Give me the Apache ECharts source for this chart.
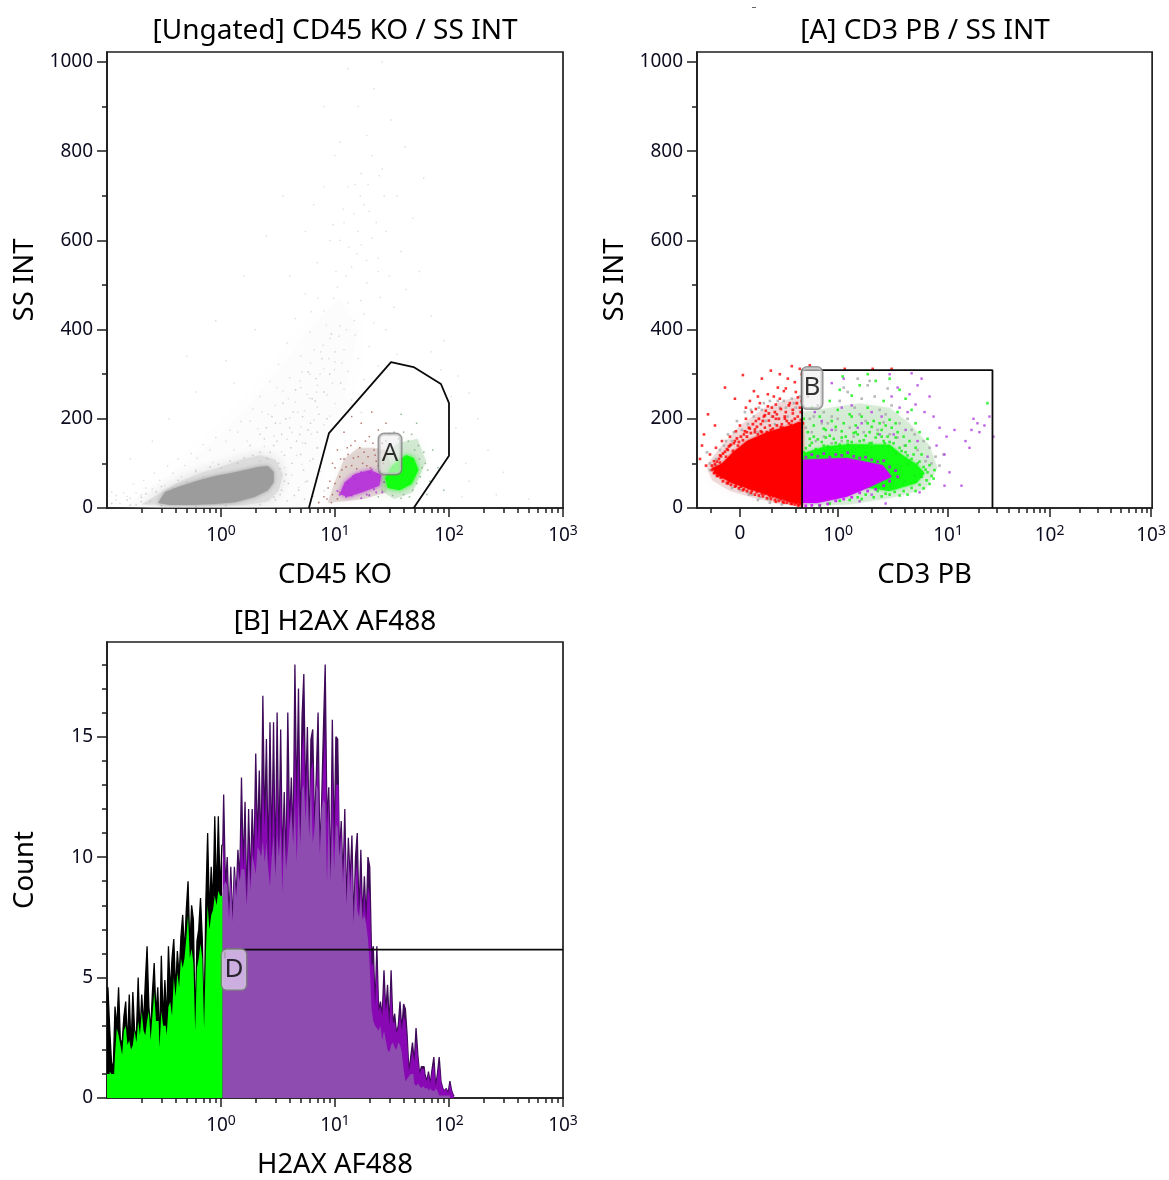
<!DOCTYPE html>
<html><head><meta charset="utf-8">
<style>html,body{margin:0;padding:0;background:#fff}#c{width:1169px;height:1180px}#c canvas{filter:blur(.4px)}</style>
<script src="https://cdn.jsdelivr.net/npm/echarts@6/dist/echarts.min.js"></script>
</head><body><div id="c"></div>
<script>
const FONT='"Noto Sans"';
// ---- tick labels ----
const ssMajor=[0,200,400,600,800,1000];
const ssMinor=[100,300,500,700,900];
const logMajor=[1,10,100,1000];
const logMinor=[0.2,0.3,0.4,0.5,0.6,0.7,0.8,0.9,2,3,4,5,6,7,8,9,20,30,40,50,60,70,80,90,200,300,400,500,600,700,800,900];
const cd3Major=[0,1,10,100,1000];
const cd3Minor=[-0.18,0.2,0.4,0.5,0.6,0.7,0.8,0.9,2,3,4,5,6,7,8,9,20,30,40,50,60,70,80,90,200,300,400,500,600,700,800,900];
const countMajor=[0,5,10,15];
const countMinor=[1,2,3,4,6,7,8,9,11,12,13,14,16,17,18];
// ---- gates ----
const gateA=[[5.9,0],[8.86,168],[31,327],[48.9,316],[85,278],[100,235],[100,117],[49,0]];
const gateBRange=[0.46,27.4], gateBTop=309;
const gateD=[[1.08,5.8],[1.08,6.16],[1000,6.16]];
// ---- panel 1: CD45 KO / SS INT ----
const cd45Core=[[.28,11],[.323,36],[.437,49],[.654,63],[.886,72],[1.2,78],[1.62,85],[2.11,92],[2.58,94],[2.9,81],[2.9,58],[2.58,40],[1.99,25],[1.33,13],[.886,9],[.535,7],[.357,7]];
const cd45Halo=[[.2,8],[.27,28],[.42,58],[.65,78],[1,92],[1.5,108],[2.2,118],[3,108],[3.5,75],[3.2,40],[2.6,15],[1.6,6],[.6,6]];
const cd45Wash=[[.14,4],[.3,60],[.7,130],[1.5,210],[3,300],[6,400],[11,470],[16,400],[12,240],[7,100],[6,5]];
const cd45Sparse=[[13,985],[22,940],[8,900],[31,870],[19,835],[41,810],[10,790],[26,760],[60,740],[15,725],[35,700],[6.5,680],[20,665],[48,650],[12,640],[28,620],[9,600],[17,590],[38,575],[24,560],[7,550],[14,540],[55,530],[30,520],[19,505],[10.5,495],[42,490],[5.5,480],[25,472],[13,460],[33,450],[8,442],[18,435],[70,430],[4.5,425],[22,415],[11,408],[28,400],[6,395],[15,388],[9,380],[90,375],[3.8,370],[20,362],[12,355],[7.5,350],[35,345],[5,340],[16,335],[10,328],[3.2,322],[24,318],[8,312],[13,306],[6,300],[120,296],[4,292],[18,288],[2.7,284],[9.5,280],[7,275],[5,270],[12,266],[3.5,262],[150,258],[8.5,254],[2.2,250],[6,246],[14,242],[4.5,238],[10,234],[3,230],[7,226],[1.9,222],[5.4,218],[17,214],[2.6,210],[9,206],[4,202],[6.5,198],[1.5,194],[3.3,190],[8,186],[5,182],[2.1,178],[1.2,174],[4.2,170],[6.2,166],[2.9,162],[.9,158],[3.8,154],[1.7,150],[5.2,146],[.7,142],[2.4,138],[7,134],[1.3,130],[3.4,126],[.55,122],[4.6,118],[2,114],[.42,110],[6,106],[.85,102],[5.1,98],[.34,94],[3.6,90],[.6,86],[7.5,82],[.26,78],[4.2,74],[.45,70],[6.8,66],[.21,62],[5.5,58],[.17,54],[.32,50],[4.8,46],[.25,42],[8,38],[.14,34],[.2,30],[6.5,26],[.16,22],[.12,18],[7.2,14],[.13,10],[180,200],[220,130],[300,80],[150,60],[260,30],[500,20],[130,25],[70,350],[85,310],[105,250],[115,180],[140,100],[1.1,330],[.6,260],[.35,200],[.25,150],[.16,110],[.9,420],[1.6,520],[2.5,610],[3.5,700],[.5,340],[2,400],[1.3,280],[4,520],[5.5,620],[8,720],[11,820],[16,900],[26,1000],[6.2,440],[9.7,470],[12.5,520],[15.5,570],[11,600],[18,680],[23,640],[17,750],[13,720],[21,790],[27,700],[7.4,300],[8.8,335],[6.1,325],[5.1,305],[9.9,310],[11.5,325],[7.9,365],[6.6,355],[10.8,385],[12.6,400],[8.4,410],[14.8,420],[16.8,465],[7.1,470],[10.2,530],[13.2,585],[15.9,620],[9.6,635],[18.9,555],[21,605],[24,530],[11.8,670],[14.6,660],[16.7,700],[19.5,725],[24.5,745],[4.7,215],[5.7,255],[6.9,260],[3.9,245],[4.9,285],[3.1,270],[2.3,215],[1.8,195],[1.4,170],[1.1,150],[.8,130],[.62,112],[.48,95],[.38,78],[.29,62],[.22,45],[.18,34],[.15,26],[.12,28],[.11,36]];
const cd45Near=[[1.8,140],[2.4,155],[2.9,140],[3.4,165],[4,180],[4.6,150],[5.2,205],[3,190],[4.3,215],[5.8,175],[6.3,245],[7.2,210],[8,260],[6.8,290],[9,300],[7.7,335],[10,350],[11.2,280],[9.3,390],[5,120],[4.2,100],[3.7,75],[3.9,55],[4.8,40],[5.3,85],[5.7,60],[2.6,110],[1.4,100],[1,90],[.7,70],[.5,58],[.38,44],[.27,36],[.2,24],[.15,18],[.11,10],[2.2,105],[3.2,100],[3.6,118],[2.7,125],[1.9,118],[1.2,105],[.8,92],[3.3,30],[2.9,24],[4.4,28],[5.4,20],[3.8,16],[2.2,8],[1.1,5],[.6,4],[.3,5],[.18,7],[.24,15],[.34,20],[7,170],[8.5,200],[7,135],[6.4,110],[3.5,235],[2.8,205],[4.5,265],[5.8,305],[6.7,240],[3.3,88],[3.6,60],[3.4,40],[3,18],[2.2,125],[2.5,112],[1.6,112],[.95,98],[.6,82],[.42,62],[.3,48],[.22,32],[.2,14],[.16,6],[4.1,135],[4.9,165],[3.1,150],[2.2,165],[5.5,145],[6.1,190],[3.7,200],[2.5,180]];
const gateBrown=[[10,55],[11.5,85],[13,120],[15,150],[12,170],[17,190],[20,160],[24,175],[18,125],[22,130],[26,145],[30,165],[14,95],[16,70],[19,95],[23,105],[27,110],[11,35],[13,40],[9.5,30],[8.5,20],[12,110],[10.5,130],[14,205],[21,215],[9.5,100],[28,190],[16,115],[20,80],[25,85],[11,70],[12.5,92],[13.8,140],[14.5,112],[15.5,88],[16.5,135],[17.5,100],[18.5,150],[19.5,115],[20.5,90],[21.5,145],[22.5,118],[24,95],[25,125],[26.5,100],[9,60],[8.7,45],[10,90],[11.2,110],[12.8,135],[8,25],[7.2,12],[10.5,20],[9.3,12]];
const gateGrayGreen=[[28,150],[36,155],[44,150],[50,130],[55,110],[58,90],[56,70],[52,55],[48,40],[40,30],[32,28],[26,38],[47,165],[60,125],[65,85],[40,170],[33,170],[54,140],[62,100],[45,25],[38,22],[68,60],[72,130],[80,90],[52,190],[38,210],[90,40],[64,30],[20,30],[24,25]];
const gateMagentaSpots=[[11,30],[12.5,25],[14,28],[16,42],[17,22],[19,30],[10.5,38],[22,42],[26,35],[27,58],[24,75],[20,78],[15,65],[13,55],[12,45],[14.5,72],[17,80],[21,86],[25,82],[28,65],[20,28],[23,35]];
const cd45Brown=[[8.6,12],[10,60],[12,110],[16,135],[22,135],[28,130],[32,85],[28,35],[18,20],[11,14]];
const cd45MagentaCore=[[11,31],[12.2,58],[15,76],[20.3,85],[25.5,74],[24.5,50],[17.5,36],[13,25]];
const cd45GreenHalo=[[25,40],[25,108],[35,145],[53,155],[63,105],[48,35],[33,20]];
const cd45GreenCore=[[27.5,68],[32,96],[42,119],[49,112],[54,85],[47,54],[37,40],[29,45]];
// ---- panel 2: CD3 PB / SS INT (x in display channels of the CD3 PB axis) ----
const cd3RedFringe=[[-34,95],[-20,135],[0,185],[25,225],[50,245],[63,250],[63,4],[40,8],[15,22],[-10,38],[-28,62]];
const cd3GreenFringe=[[63,215],[90,225],[120,235],[150,225],[170,190],[190,140],[198,90],[186,42],[150,22],[110,8],[63,4]];
const cd3RedCore=[[63,195],[50,185],[27,170],[7,150],[-7,125],[-18,100],[-27,90],[-25,78],[-18,68],[-7,55],[10,42],[30,28],[50,14],[63,8]];
const cd3GreenCore=[[63,122],[85,138],[110,143],[150,142],[162,120],[177,98],[185,78],[177,56],[150,38],[130,45],[63,60]];
const cd3MagentaCore=[[63,108],[107,112],[143,96],[152,70],[130,47],[107,25],[77,11],[63,11]];
const cd3Red=[[-40,110],[-38,140],[-34,95],[-30,120],[-28,85],[-26,105],[-24,135],[-22,72],[-20,118],[-18,150],[-16,98],[-14,68],[-12,130],[-10,160],[-8,60],[-6,145],[-4,172],[-2,120],[0,185],[2,55],[4,165],[6,200],[8,48],[10,178],[12,215],[14,150],[16,195],[18,42],[20,235],[22,170],[24,205],[26,38],[28,255],[30,185],[32,225],[34,30],[36,200],[38,270],[40,245],[42,188],[44,28],[46,215],[48,290],[50,235],[52,195],[54,18],[56,260],[58,205],[60,225],[62,300],[-36,165],[-32,210],[-25,185],[-15,270],[-5,245],[3,298],[14,262],[22,290],[31,308],[40,300],[52,318],[60,312],[10,240],[18,250],[28,228],[36,232],[44,262],[55,282],[6,225],[16,222],[26,218],[34,250],[46,268],[58,248],[48,22],[40,24],[30,26],[22,32],[12,38],[4,42],[-4,50],[-12,55],[36,14],[44,12],[52,9],[58,6],[62,5],[25,180],[33,178],[41,182],[49,190],[57,188],[7,170],[15,176],[21,188],[29,196],[37,210],[45,200],[53,212],[61,198],[105,312],[133,312],[152,312],[70,320],[10,150],[18,165],[35,165],[46,175],[55,180],[-2,140],[-10,140],[-14,115],[-20,102],[-26,78]];
const cd3RedEdge=[[-28,95],[-27,88],[-25,98],[-25,80],[-23,104],[-23,72],[-21,110],[-21,84],[-19,116],[-19,68],[-17,122],[-17,60],[-15,126],[-15,72],[-13,132],[-13,56],[-11,138],[-11,60],[-9,142],[-9,52],[-7,128],[-5,150],[-5,48],[-3,156],[-3,56],[-1,148],[-1,44],[1,160],[1,48],[3,152],[3,40],[5,172],[5,50],[7,160],[7,38],[9,180],[9,44],[11,168],[11,34],[13,188],[13,44],[15,170],[15,30],[17,182],[17,36],[19,200],[19,28],[21,172],[21,38],[23,195],[23,26],[25,208],[25,32],[27,170],[27,22],[29,212],[29,30],[31,175],[31,20],[33,205],[33,26],[35,215],[35,18],[37,185],[37,24],[39,200],[39,16],[41,222],[41,20],[43,180],[43,14],[45,205],[45,20],[47,195],[47,12],[49,230],[49,16],[51,186],[51,10],[53,220],[53,14],[55,200],[55,8],[57,235],[57,12],[59,190],[59,6],[61,215],[61,10],[62,240],[63,190]];
const cd3Gray=[[-30,100],[-33,125],[-24,110],[-20,130],[-16,140],[-8,150],[2,175],[8,188],[14,205],[22,220],[30,240],[40,225],[48,205],[56,225],[60,250],[18,170],[26,195],[35,188],[44,240],[52,245],[5,215],[-3,195],[-12,165],[12,30],[20,24],[28,20],[38,18],[46,18],[55,14],[-8,45],[0,40],[8,35],[70,200],[78,230],[84,215],[92,205],[100,240],[108,260],[115,225],[122,245],[128,275],[135,250],[140,220],[146,210],[152,230],[160,190],[168,200],[175,165],[184,150],[190,135],[196,115],[72,170],[84,160],[96,175],[110,180],[124,170],[138,175],[150,165],[165,140],[186,105],[178,130],[130,285],[118,290],[148,268],[104,270],[62,215],[68,250],[88,190],[76,150],[92,145],[11,220],[19,225],[24,235],[32,205],[38,240],[46,225],[54,235],[-6,170],[-14,150],[-24,95],[-30,85],[9,30],[18,18],[30,12],[42,8],[82,190],[98,200],[120,210],[126,195],[144,192],[158,158],[172,175],[192,100],[200,95],[204,120],[66,180],[74,205],[102,150],[114,160]];
const cd3Green=[[64,125],[70,140],[76,132],[82,148],[88,138],[94,155],[100,142],[106,160],[112,148],[118,165],[124,152],[130,170],[136,158],[142,175],[148,160],[154,145],[160,135],[166,125],[172,110],[178,100],[184,92],[188,80],[192,72],[187,62],[180,52],[172,45],[164,38],[155,36],[146,32],[138,38],[126,30],[118,24],[110,18],[100,16],[90,10],[80,5],[68,170],[74,185],[80,205],[86,175],[92,195],[98,220],[104,190],[110,210],[116,185],[122,205],[128,225],[134,195],[140,190],[146,185],[152,180],[158,170],[164,160],[170,150],[176,135],[182,120],[64,200],[72,225],[90,240],[100,265],[112,252],[120,275],[128,300],[136,285],[144,240],[158,215],[166,245],[176,190],[188,155],[150,290],[160,265],[172,220],[180,170],[70,155],[86,158],[102,172],[116,170],[132,182],[150,198],[74,160],[108,150],[130,145],[145,145],[156,122],[168,98],[182,70],[175,72],[165,60],[195,85],[103,295],[112,205],[248,235],[66,134],[72,146],[78,154],[84,140],[90,162],[96,146],[102,158],[108,142],[114,168],[120,150],[126,162],[132,146],[138,166],[144,150],[150,148],[156,158],[162,128],[168,118],[174,120],[180,104],[186,86],[190,96],[194,66],[190,54],[184,44],[176,38],[168,30],[160,28],[150,30],[142,26],[134,24],[122,20],[84,178],[96,182],[128,190],[142,160],[166,140],[156,190]];
const cd3Purple=[[75,215],[82,195],[92,175],[102,225],[112,230],[122,190],[132,215],[142,205],[152,250],[160,225],[170,255],[178,275],[185,215],[194,205],[200,180],[207,160],[215,175],[226,150],[232,175],[238,190],[245,185],[254,160],[230,135],[205,120],[197,140],[188,115],[210,80],[205,50],[222,50],[178,150],[166,175],[154,165],[140,165],[118,180],[104,290],[92,280],[150,300],[172,302],[182,290],[158,270],[190,250],[176,232],[168,215],[132,30],[120,15],[146,10],[180,35],[240,170],[234,200],[250,205]];
const cd3MagentaEdge=[[66,114],[72,120],[78,116],[84,122],[90,114],[96,120],[102,118],[108,124],[114,116],[120,112],[126,114],[132,108],[138,104],[144,106],[150,92],[156,84],[158,70],[150,60],[144,50],[136,42],[128,38],[120,34],[112,24],[104,20],[96,16],[88,9],[80,6],[72,6],[66,5]];
// ---- panel 3: H2AX AF488 histogram, one value per bin ----
const countsGreen=[3.8,4.6,2.9,1.5,1.2,3.8,2.9,4.6,2.4,2.3,3.4,4.0,2.2,4.3,2.0,4.4,2.8,2.6,5.0,2.6,4.3,3.0,4.8,6.3,3.8,2.8,4.4,5.6,3.4,4.6,2.3,5.9,3.2,4.9,3.2,6.3,4.4,5.8,6.6,4.4,6.1,5.0,6.7,7.6,6.0,7.8,9.0,6.2,8.0,7.4,3.0,6.5,7.0,8.3,6.6,3.0,8.2,11.0,7.6,9.6,8.0,11.7,8.4,11.7,8.5];
const fillGreen=[1.0,1.0,1.1,1.0,1.0,1.8,2.9,2.6,2.2,1.8,2.8,3.0,2.2,2.4,2.0,2.2,2.8,2.3,3.2,2.6,3.6,2.8,2.6,3.2,3.6,2.4,3.4,4.4,3.2,3.2,2.1,3.6,3.0,3.0,2.6,3.8,4.0,3.4,5.0,4.2,5.2,4.6,5.8,5.4,5.8,6.6,7.6,5.8,6.2,5.6,2.8,5.4,5.8,6.4,5.8,2.9,6.0,8.0,7.0,7.6,7.8,8.4,8.0,8.6,8.4];
const countsPurple=[10.5,12.6,8.8,10.0,7.4,9.6,7.3,9.6,8.3,10.3,9.0,13.3,9.5,12.3,8.0,12.0,8.9,12.0,9.7,14.3,10.6,13.6,10.0,16.7,11.2,14.9,9.5,15.6,10.0,15.6,9.2,16.0,10.0,15.3,9.7,12.7,9.5,16.0,11.2,13.3,10.5,18.0,12.0,17.0,10.5,15.8,17.6,12.3,15.4,10.8,14.9,15.3,11.2,13.4,16.0,10.1,12.3,15.3,18.0,11.4,12.9,9.0,15.7,10.4,15.0,14.9,10.0,11.5,9.0,12.0,8.0,10.8,9.0,10.9,7.2,10.0,11.0,7.5,10.3,7.4,9.2,7.3,10.0,9.6,6.0,6.3,3.8,6.3,3.6,4.0,3.4,5.3,3.6,4.7,3.0,5.3,3.1,3.5,2.7,3.0,4.0,2.8,3.9,3.7,2.6,1.1,1.7,2.3,1.5,2.9,1.8,1.0,1.3,1.3,1.0,.7,1.1,.6,1.2,1.7,.5,1.0,1.7,.7,.4,.3,.4,.2,.7,.3,.1];
const midPurple=[9.6,11,8.4,9.4,7.4,9.2,7.3,9.3,8.3,9.8,9,11.5,9.5,11.2,8.0,10.8,8.9,11,9.7,12.5,10.6,12.2,10,13.5,11.2,13,9.5,13.2,10,13.4,9.2,13.6,10,13.2,9.7,12,9.5,13.5,11.2,12.6,10.5,15,12,14.8,10.5,14.4,15.2,12.3,14.2,10.8,13.6,14.0,11.2,12.8,14.2,10.1,12.0,13.8,15.4,11.4,12.4,9,13.8,10.4,13,13,10,11.2,9,11,8,10.2,9,10,7.2,9.2,9.8,7.5,9.2,7.4,8.6,7.3,8.8,8.4,5.5,5.6,3.8,5.6,3.6,3.8,3.4,4.6,3.6,4.1,3,4.6,3.1,3.2,2.7,2.9,3.5,2.8,3.4,3.2,2.4,1.1,1.5,2,1.5,2.4,1.7,1,1.2,1.2,.9,.7,1,.6,1.1,1.4,.5,.9,1.4,.7,.4,.3,.4,.2,.6,.3,.1];
const basePurple=[8.5,8.8,9.0,8.8,7.4,9.0,7.3,9.4,8.3,9.4,9.0,9.5,9.5,9.2,8.0,10,8.6,10.1,9.7,9.3,10.4,10.3,10,10.7,9.8,10.6,9.5,8.8,10,10.9,9.2,11,10,11.2,8.5,11.4,9.5,10.2,11.2,12,10.5,12.2,9.8,12.4,10.5,12.8,13,11.5,13.2,10.8,13.2,10.6,11.2,13,12.8,10.1,12,12.4,12.2,9.0,12,9,11.6,9.5,11.4,11.2,10,10.8,8.9,10.5,8,10.1,8.5,9.8,7.2,9.3,7.8,7.5,8.5,7.4,7.6,7.2,6.6,5.5,3.7,3.2,3,2.9,2.8,3,2.4,2.8,2.4,2,1.9,2.2,2.3,2.1,2,2.3,2.2,1.9,1.2,.7,.8,.9,1,1,.6,.5,.6,.5,.4,.5,.4,.4,.3,.4,.3,.3,.4,.3,.1,.1,.1,.1,.1,.1,0];
const HIST_BINS=256;
const binX=i=>Math.pow(10,-1+4*i/HIST_BINS);
const bins=(arr,start,tail)=>{const r=arr.map((c,i)=>[binX(i+start),c]); if(tail!==undefined) r.push([binX(arr.length+start),tail]); return r;};

// display-channel scale of the CD3 PB axis: linear-like near 0, log above 1
function chan(v){
  if(Math.abs(v)<=1) return 98.5*Math.asinh(v/0.3)/Math.asinh(1/0.3);
  if(v<=10) return 98.5+110*Math.log10(v);
  return 208.5+101.75*(Math.log10(v)-1);
}
const gateB=[[chan(gateBRange[0]),0],[chan(gateBRange[0]),gateBTop],[chan(gateBRange[1]),gateBTop],[chan(gateBRange[1]),0]];

const INK='#1e1e1e';
const labelStyle={color:'#0c0c20',fontFamily:FONT,fontSize:19};
const fmtPlain=v=>String(v);
const logFmt=v=>'10{s|'+Math.round(Math.log10(v))+'}';
const rich={s:{fontSize:14,fontFamily:FONT,color:'#0c0c20',padding:[0,0,9,0]}};
function majorX(g,type,min,max,ticks,fmt,name,gap){return {
  gridIndex:g,type,logBase:10,min,max,position:'bottom',name,nameLocation:'middle',nameGap:gap,
  nameTextStyle:{fontFamily:FONT,fontSize:27.5,color:'#000'},
  axisLine:{show:true,onZero:false,lineStyle:{color:INK,width:1.7}},
  axisTick:{show:true,length:9,customValues:ticks,lineStyle:{color:INK,width:1.5}},
  axisLabel:{show:true,customValues:ticks,formatter:fmt,margin:16,rich,hideOverlap:false,...labelStyle},
  splitLine:{show:false},minorTick:{show:false}};}
function minorX(g,type,min,max,ticks){return {
  gridIndex:g,type,logBase:10,min,max,position:'bottom',
  axisLine:{show:false,onZero:false},
  axisTick:{show:true,length:5,customValues:ticks,lineStyle:{color:INK,width:1.5}},
  axisLabel:{show:false},splitLine:{show:false}};}
function majorY(g,max,ticks,name,gap){return {
  gridIndex:g,type:'value',min:0,max,position:'left',name,nameLocation:'middle',nameGap:gap,
  nameTextStyle:{fontFamily:FONT,fontSize:27.5,color:'#000'},
  axisLine:{show:true,onZero:false,lineStyle:{color:INK,width:1.7}},
  axisTick:{show:true,length:10,customValues:ticks,lineStyle:{color:INK,width:1.5}},
  axisLabel:{show:true,customValues:ticks,formatter:fmtPlain,margin:14,padding:[3,0,0,0],hideOverlap:false,...labelStyle},splitLine:{show:false}};}
function minorY(g,max,ticks){return {
  gridIndex:g,type:'value',min:0,max,position:'left',
  axisLine:{show:false,onZero:false},
  axisTick:{show:true,length:5,customValues:ticks,lineStyle:{color:INK,width:1.5}},
  axisLabel:{show:false},splitLine:{show:false}};}

function poly(points,fill,xi,yi,z,blur){return {type:'custom',xAxisIndex:xi,yAxisIndex:yi,data:points,silent:true,z,clip:true,
  encode:{x:0,y:1},
  renderItem:(p,api)=>p.dataIndex===0?{type:'polygon',shape:{points:points.map(q=>api.coord(q))},style:{fill,shadowBlur:blur||0,shadowColor:fill}}:null};}
function dots(data,color,size,xi,yi,z){return {type:'scatter',xAxisIndex:xi,yAxisIndex:yi,data,silent:true,z,
  symbol:'rect',symbolSize:size,itemStyle:{color},animation:false,clip:true};}
function gate(data,xi,yi){return {type:'line',xAxisIndex:xi,yAxisIndex:yi,data,symbol:'none',silent:true,z:20,
  lineStyle:{color:'#0a0a0a',width:1.8},clip:true};}
function tag(text,pt,bg,w,h,xi,yi){return {type:'scatter',xAxisIndex:xi,yAxisIndex:yi,data:[pt],symbolSize:0,silent:true,z:30,
  label:{show:true,position:'inside',formatter:text,fontFamily:FONT,fontSize:26,color:'#000',
    backgroundColor:bg,borderColor:'#808080',borderWidth:1.5,borderRadius:5,width:w,height:h,lineHeight:h,align:'center',verticalAlign:'middle'}};}
function hist(data,fill,line,xi,yi,z){return {type:'line',xAxisIndex:xi,yAxisIndex:yi,data,symbol:'none',step:'middle',silent:true,z,
  lineStyle:line?{color:line,width:1.3}:{width:0,opacity:0},areaStyle:{color:fill,opacity:1},clip:true};}
const titleStyle={fontFamily:FONT,fontSize:28,fontWeight:'normal',color:'#000'};

const G=countsGreen.length;
const option={
  animation:false,
  backgroundColor:'#fff',
  title:[
   {text:'[Ungated] CD45 KO / SS INT',left:330,top:12,textAlign:'center',textStyle:titleStyle},
   {text:'[A] CD3 PB / SS INT',left:920,top:12,textAlign:'center',textStyle:titleStyle},
   {text:'[B] H2AX AF488',left:330,top:603,textAlign:'center',textStyle:titleStyle}],
  grid:[
   {left:107,top:52,width:456,height:456,show:true,borderColor:INK,borderWidth:1.7,backgroundColor:'transparent'},
   {left:697,top:52,width:456,height:456,show:true,borderColor:INK,borderWidth:1.7,backgroundColor:'transparent'},
   {left:107,top:642,width:456,height:458,show:true,borderColor:INK,borderWidth:1.7,backgroundColor:'transparent'}],
  xAxis:[
   majorX(0,'log',0.1,1000,logMajor,logFmt,'CD45 KO',53),
   minorX(0,'log',0.1,1000,logMinor),
   majorX(1,'value',-43,413,cd3Major.map(chan),v=>{const r=cd3Major[cd3Major.map(chan).findIndex(c=>Math.abs(c-v)<1e-6)];return r===0?'0':logFmt(r);},'CD3 PB',53),
   minorX(1,'value',-43,413,cd3Minor.map(chan)),
   majorX(2,'log',0.1,1000,logMajor,logFmt,'H2AX AF488',53),
   minorX(2,'log',0.1,1000,logMinor)],
  yAxis:[
   majorY(0,1022.4,ssMajor,'SS INT',68),minorY(0,1022.4,ssMinor),
   majorY(1,1022.4,ssMajor,'SS INT',68),minorY(1,1022.4,ssMinor),
   majorY(2,18.93,countMajor,'Count',68),minorY(2,18.93,countMinor)],
  graphic:[{type:'rect',shape:{x:752,y:7,width:4,height:1},style:{fill:'#666'}}],
  series:[
   // panel 1
   poly(cd45Wash,'#fcfcfc',0,0,1,30),
   dots(cd45Sparse,'#d6d6d6',1.4,0,0,2),
   poly(cd45Halo,'#dcdcdc',0,0,3,12),
   dots(cd45Near,'#bdbdbd',1.4,0,0,3),
   poly(cd45Core,'#9c9c9c',0,0,4,4),
   poly(cd45Brown,'rgba(170,135,125,.30)',0,0,5,10),
   poly(cd45GreenHalo,'rgba(140,195,140,.34)',0,0,5,10),
   dots(gateBrown,'#a5594f',1.5,0,0,6),
   dots(gateGrayGreen,'#7da87d',1.5,0,0,6),
   poly(cd45MagentaCore,'#b83ad8',0,0,7,5),
   dots(gateMagentaSpots,'#b02fd6',1.8,0,0,7),
   poly(cd45GreenCore,'#12ff12',0,0,8,5),
   gate(gateA,0,0),
   tag('A',[30.4,121],'rgba(238,238,238,.72)',22,40,0,0),
   // panel 2
   poly(cd3RedFringe,'rgba(215,150,150,.32)',2,2,3,10),
   poly(cd3GreenFringe,'rgba(140,200,140,.30)',2,2,3,10),
   dots(cd3Gray,'#a8a8a8',2.6,2,2,5),
   dots(cd3Red,'#ff0000',2.6,2,2,6),
   dots(cd3RedEdge,'#ff0000',2.8,2,2,6),
   poly(cd3RedCore,'#ff0000',2,2,7,3),
   dots(cd3Purple,'#b03be0',2.4,2,2,7),
   dots(cd3Green,'#10f010',2.6,2,2,8),
   poly(cd3GreenCore,'#12ff12',2,2,8,3),
   dots(cd3MagentaEdge,'#cc00ff',2.8,2,2,9),
   poly(cd3MagentaCore,'#cc00ff',2,2,9,2),
   gate(gateB,2,2),
   tag('B',[chan(gateBRange[0])+10,269],'rgba(238,238,238,.72)',20,41,2,2),
   // panel 3
   hist(bins(countsGreen,0,countsPurple[0]),'#000000','#000000',4,4,5),
   hist(bins(fillGreen,0,fillGreen[G-1]),'#00ff00',null,4,4,6),
   hist(bins(countsPurple,G),'#3f0a5a','#3f0a5a',4,4,7),
   hist(bins(midPurple,G),'#8808b4',null,4,4,8),
   hist(bins(basePurple,G),'#8e4bb0',null,4,4,9),
   gate(gateD,4,4),
   tag('D',[1.3,5.33],'rgba(226,208,240,.93)',24,40,4,4)
  ]
};
const chart=echarts.init(document.getElementById('c'),null,{renderer:'canvas',width:1169,height:1180});
chart.setOption(option);
</script></body></html>
